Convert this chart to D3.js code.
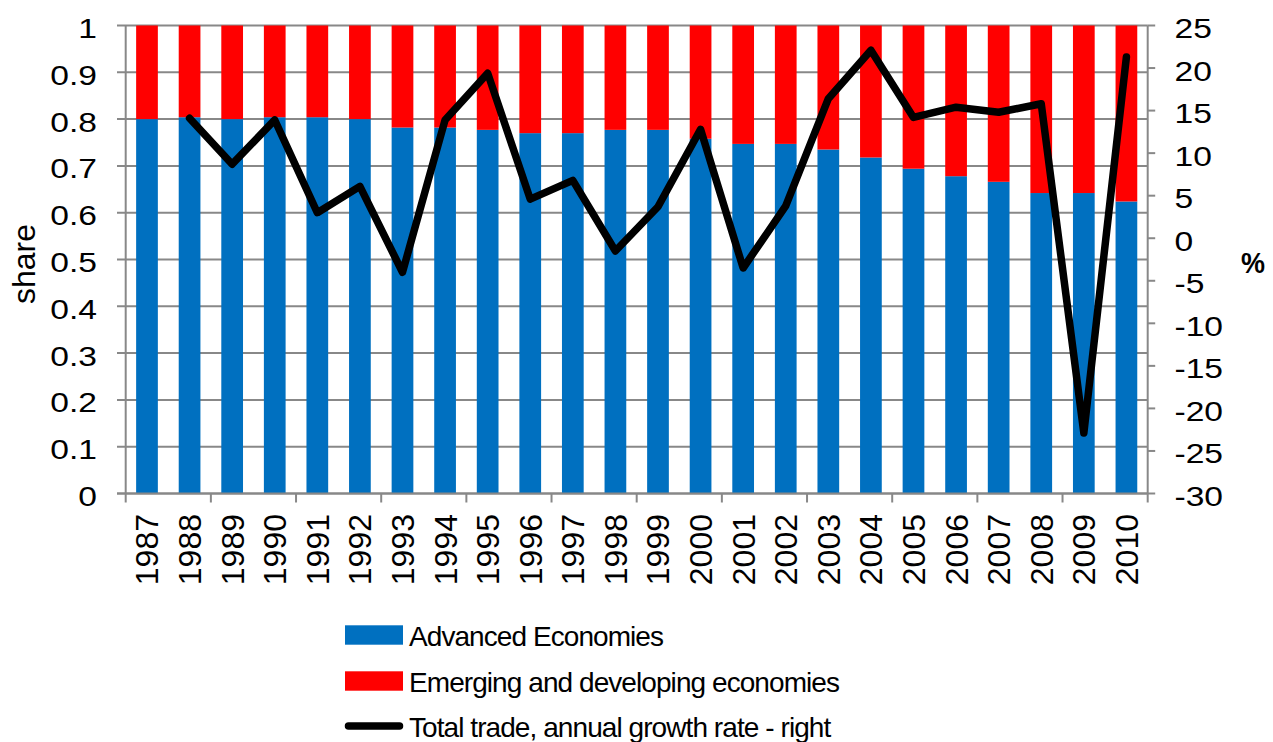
<!DOCTYPE html>
<html>
<head>
<meta charset="utf-8">
<script src="https://cdn.jsdelivr.net/npm/d3@7"></script>
<style>
  body { margin: 0; background: #fff; }
  svg { display: block; }
  text { font-family: "Liberation Sans", Arial, sans-serif; fill: #000; }
</style>
</head>
<body>
<svg id="chart" width="1273" height="742"></svg>
<script>
// Trade shares by economy group and total trade growth, 1987-2010
const years = [1987, 1988, 1989, 1990, 1991, 1992, 1993, 1994, 1995, 1996, 1997, 1998,
               1999, 2000, 2001, 2002, 2003, 2004, 2005, 2006, 2007, 2008, 2009, 2010];
const advancedShare = [0.800, 0.804, 0.800, 0.804, 0.804, 0.800, 0.782, 0.782, 0.777, 0.770, 0.770, 0.777,
                       0.777, 0.758, 0.747, 0.747, 0.735, 0.718, 0.694, 0.678, 0.666, 0.642, 0.642, 0.624];
const emergingShare = [0.200, 0.196, 0.200, 0.196, 0.196, 0.200, 0.218, 0.218, 0.223, 0.230, 0.230, 0.223,
                       0.223, 0.242, 0.253, 0.253, 0.265, 0.282, 0.306, 0.322, 0.334, 0.358, 0.358, 0.376];
const tradeGrowth = [null, 14.1, 8.7, 13.9, 3.0, 6.1, -4.0, 13.9, 19.4, 4.6, 6.8, -1.5,
                     3.7, 12.8, -3.5, 3.8, 16.4, 22.1, 14.2, 15.4, 14.8, 15.8, -22.9, 21.3];
const shareTicks = [0, 0.1, 0.2, 0.3, 0.4, 0.5, 0.6, 0.7, 0.8, 0.9, 1];
const growthTicks = [-30, -25, -20, -15, -10, -5, 0, 5, 10, 15, 20, 25];
const seriesNames = ["Advanced Economies", "Emerging and developing economies",
                     "Total trade, annual growth rate - right"];

const svg = d3.select("#chart");
const plot = { left: 125.7, right: 1147.7, top: 25.5, bottom: 493.5 };
const gridColor = "#888888";
const colors = { adv: "#0070C0", emg: "#FF0000", line: "#000000" };

const x = d3.scaleBand().domain(years).range([plot.left, plot.right])
  .paddingInner(0.49).paddingOuter(0.245);
const yShare = d3.scaleLinear().domain([0, 1]).range([plot.bottom, plot.top]);
const yGrowth = d3.scaleLinear().domain([-30, 25]).range([plot.bottom, plot.top]);

// horizontal gridlines (with the left tick stubs)
svg.append("g").selectAll("line").data(shareTicks).join("line")
  .attr("x1", plot.left - 8.7).attr("x2", plot.right)
  .attr("y1", d => yShare(d)).attr("y2", d => yShare(d))
  .attr("stroke", gridColor).attr("stroke-width", 2);

// stacked share bars
const rows = years.map((yr, i) => ({ year: yr, adv: advancedShare[i], emg: emergingShare[i] }));
const stacked = d3.stack().keys(["adv", "emg"])(rows);
svg.append("g").selectAll("g").data(stacked).join("g")
  .attr("fill", s => colors[s.key])
  .selectAll("rect").data(s => s).join("rect")
  .attr("x", d => x(d.data.year))
  .attr("width", x.bandwidth())
  .attr("y", d => yShare(d[1]))
  .attr("height", d => yShare(d[0]) - yShare(d[1]));

// axis lines
const axes = svg.append("g").attr("stroke", gridColor).attr("stroke-width", 2);
axes.append("line").attr("x1", plot.left).attr("x2", plot.left)
  .attr("y1", plot.top).attr("y2", plot.bottom);
axes.append("line").attr("x1", plot.right).attr("x2", plot.right)
  .attr("y1", plot.top).attr("y2", plot.bottom);
axes.append("line").attr("x1", plot.left - 8.7).attr("x2", plot.right)
  .attr("y1", plot.bottom).attr("y2", plot.bottom);
// right axis tick stubs
axes.selectAll(".rt").data(growthTicks).join("line").attr("class", "rt")
  .attr("x1", plot.right).attr("x2", plot.right + 7.5)
  .attr("y1", d => yGrowth(d)).attr("y2", d => yGrowth(d));
// category tick marks every second boundary
const step = x.step();
const boundaries = d3.range(0, years.length + 1, 2).map(k => plot.left + k * step);
axes.selectAll(".bt").data(boundaries).join("line").attr("class", "bt")
  .attr("x1", d => d).attr("x2", d => d)
  .attr("y1", plot.bottom).attr("y2", plot.bottom + 9);

// growth line on the right axis
const line = d3.line()
  .defined(d => d.v !== null)
  .x(d => x(d.year) + x.bandwidth() / 2)
  .y(d => yGrowth(d.v));
svg.append("path")
  .datum(years.map((yr, i) => ({ year: yr, v: tradeGrowth[i] })))
  .attr("d", line)
  .attr("fill", "none").attr("stroke", colors.line)
  .attr("stroke-width", 7.5).attr("stroke-linejoin", "round").attr("stroke-linecap", "round");

// left tick labels
const fmt = d3.format("~g");
svg.append("g").selectAll("text").data(shareTicks).join("text")
  .attr("transform", d => `translate(97,${yShare(d) + 12.5}) scale(1.2,1)`)
  .attr("text-anchor", "end").attr("font-size", 28)
  .text(d => fmt(d));

// right tick labels
svg.append("g").selectAll("text").data(growthTicks).join("text")
  .attr("transform", d => `translate(1174.5,${yGrowth(d) + 12.5}) scale(1.2,1)`)
  .attr("text-anchor", "start").attr("font-size", 28)
  .text(d => d);

// year labels
svg.append("g").selectAll("text").data(years).join("text")
  .attr("transform", d => `translate(${x(d) + x.bandwidth() / 2 + 11.5},514) rotate(-90)`)
  .attr("text-anchor", "end").attr("font-size", 32)
  .text(d => d);

// axis titles
svg.append("text")
  .attr("transform", "translate(35,264) rotate(-90)")
  .attr("text-anchor", "middle").attr("font-size", 32)
  .text("share");
svg.append("text")
  .attr("transform", "translate(1253,273) scale(0.9,1)")
  .attr("text-anchor", "middle").attr("font-size", 30).attr("font-weight", "bold")
  .text("%");

// legend
const legend = svg.append("g");
const rowY = [635, 681, 726];
legend.append("rect").attr("x", 345).attr("y", rowY[0] - 9.7).attr("width", 58).attr("height", 19.4)
  .attr("fill", colors.adv);
legend.append("rect").attr("x", 345).attr("y", rowY[1] - 9.7).attr("width", 58).attr("height", 19.4)
  .attr("fill", colors.emg);
legend.append("line").attr("x1", 348.5).attr("x2", 399.5).attr("y1", rowY[2]).attr("y2", rowY[2])
  .attr("stroke", colors.line).attr("stroke-width", 7.5).attr("stroke-linecap", "round");
legend.selectAll("text").data(seriesNames).join("text")
  .attr("x", 409).attr("y", (d, i) => rowY[i] + 10.5)
  .attr("font-size", 28).attr("letter-spacing", "-0.93px")
  .text(d => d);
</script>
</body>
</html>
